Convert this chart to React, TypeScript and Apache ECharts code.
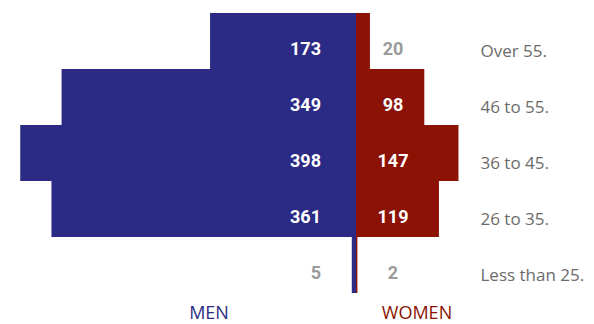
import React, { useEffect, useRef } from "react";
import * as echarts from "echarts";

const categories = ["Over 55.", "46 to 55.", "36 to 45.", "26 to 35.", "Less than 25."];
const men = [173, 349, 398, 361, 5];
const women = [20, 98, 147, 119, 2];
const seriesNames = ["MEN", "WOMEN"];

const MEN_COLOR = "#2B2A85";
const WOMEN_COLOR = "#8B1205";
const NUM_FONT = "Roboto, 'Open Sans', sans-serif";
const TXT_FONT = "'Open Sans', sans-serif";

export default function App() {
  const ref = useRef<HTMLDivElement>(null);
  useEffect(() => {
    if (!ref.current) return;
    const chart = echarts.init(ref.current, null, { renderer: "svg" });
    const labelColor = (v: number) => (v >= 50 ? "#ffffff" : "#9a9a9a");
    chart.setOption({
      animation: false,
      grid: [
        { left: 0, right: 238, top: 13, bottom: 31, containLabel: false },
        { left: 356, width: 115, top: 13, bottom: 31, containLabel: false },
      ],
      xAxis: [
        { gridIndex: 0, type: "value", inverse: true, min: 0, max: 422, show: false },
        { gridIndex: 1, type: "value", min: 0, max: 165, show: false },
      ],
      yAxis: [
        {
          gridIndex: 0, type: "category", data: categories, inverse: true,
          axisLine: { show: false }, axisTick: { show: false }, axisLabel: { show: false },
        },
        {
          gridIndex: 1, type: "category", data: categories, inverse: true, position: "right",
          axisLine: { show: false }, axisTick: { show: false },
          axisLabel: {
            show: true, margin: 9.5, color: "#6b6b6b", fontSize: 17, fontFamily: TXT_FONT,
            align: "left", verticalAlign: "top", lineHeight: 19,
          },
        },
      ],
      series: [
        {
          name: seriesNames[0], type: "bar", xAxisIndex: 0, yAxisIndex: 0,
          barCategoryGap: "0%",
          itemStyle: { color: MEN_COLOR },
          data: men.map((v) => ({
            value: v,
            label: { color: labelColor(v) },
          })),
          label: {
            show: true, position: "insideRight", distance: 35, offset: [0, 7],
            fontSize: 18, fontWeight: "bold", fontFamily: NUM_FONT,
          },
        },
        {
          name: seriesNames[1], type: "bar", xAxisIndex: 1, yAxisIndex: 1,
          barCategoryGap: "0%",
          itemStyle: { color: WOMEN_COLOR },
          data: women.map((v) => ({
            value: v,
            label: { color: labelColor(v) },
          })),
          label: {
            show: true, position: [37, "50%"], align: "center", verticalAlign: "middle", offset: [0, 7],
            fontSize: 18, fontWeight: "bold", fontFamily: NUM_FONT,
          },
        },
      ],
      graphic: [
        {
          type: "text", x: 209, y: 312,
          style: { text: seriesNames[0], fill: MEN_COLOR, font: `18px ${TXT_FONT}`, textAlign: "center", textVerticalAlign: "middle" },
        },
        {
          type: "text", x: 417, y: 312,
          style: { text: seriesNames[1], fill: WOMEN_COLOR, font: `18px ${TXT_FONT}`, textAlign: "center", textVerticalAlign: "middle" },
        },
      ],
    });
    return () => chart.dispose();
  }, []);
  return <div ref={ref} style={{ width: 594, height: 324, position: "absolute", left: 0, top: 0 }} />;
}
